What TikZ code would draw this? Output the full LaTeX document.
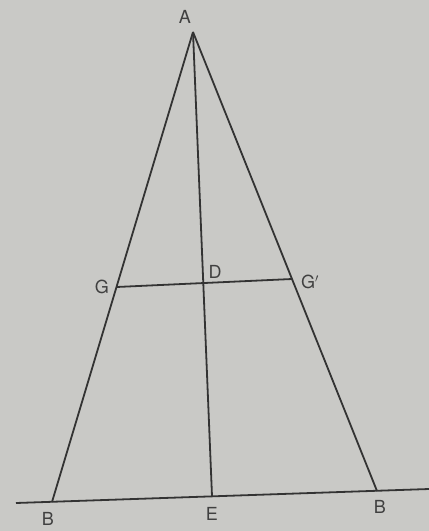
\documentclass[tikz,border=0pt]{standalone}
\usepackage{fontspec}
\setsansfont{TeX Gyre Heros}
\begin{document}
\begin{tikzpicture}[x=1pt,y=-1pt,
  ln/.style={draw=black!80, line width=1.8pt},
  lbl/.style={text=black!75, font=\fontsize{18}{18}\selectfont\sffamily, inner sep=0pt}]
\fill[fill={rgb,255:red,201;green,201;blue,198}] (0,0) rectangle (429,531);
\useasboundingbox (0,0) rectangle (429,531);
\coordinate (A) at (193,32);
\coordinate (B1) at (52,502);
\coordinate (B2) at (377,491);
\coordinate (E) at (212,496);
\coordinate (L) at (16,503);
\coordinate (R) at (429,489);
\coordinate (G) at (116.5,287);
\coordinate (G2) at (292,279);
\coordinate (D) at (204,283);
\draw[ln] (A) -- (B1);
\draw[ln] (A) -- (B2);
\draw[ln] (A) -- (E);
\draw[ln] (L) -- (R);
\draw[ln] (G) -- (G2);
\node[lbl] (lA) at (185,17) {A};
\node[lbl] (lB1) at (48,519) {B};
\node[lbl] (lE) at (212,514) {E};
\node[lbl] (lB2) at (380,507) {B};
\node[lbl] (lG) at (102,287) {G};
\node[lbl] (lD) at (215,272) {D};
\node[lbl] (lG2) at (310,282) {G$'$};
\end{tikzpicture}
\end{document}
